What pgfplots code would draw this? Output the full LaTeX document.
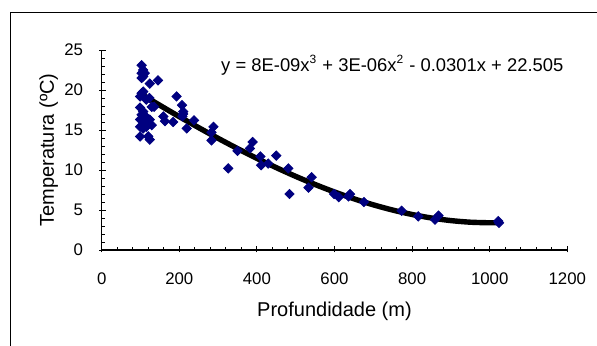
\documentclass[border=0pt]{standalone}
\usepackage{pgfplots}
\pgfplotsset{compat=1.18}
\usepackage{fontspec}
\setmainfont{Liberation Sans}
\definecolor{navy}{RGB}{0,0,128}
\pgfplotstableread{
x y
103 23.1
107 22.5
103 22.1
111 22.1
107 21.7
103 21.5
124 20.8
145 21.2
107 19.8
99 19.2
103 19.6
115 18.8
129 17.9
123 19.0
135 17.9
99 17.8
103 16.9
107 17.3
111 16.8
115 16.5
99 16.3
111 16.0
124 16.3
120 15.9
99 15.4
107 15.2
115 15.4
129 15.6
99 14.2
124 13.8
120 14.2
159 16.7
163 16.1
184 16.0
193 19.2
207 18.1
210 17.3
208 16.7
210 17.0
219 15.2
238 16.2
283 14.7
283 13.7
288 15.4
326 10.2
350 12.4
382 12.7
389 13.5
409 11.7
411 10.6
429 10.8
450 11.8
481 10.2
484 7.0
533 7.8
541 9.1
599 7.0
611 6.6
636 6.7
640 7.0
676 6.0
773 4.9
816 4.2
859 3.8
868 4.3
1022 3.6
1024 3.4
}\datatable
\pgfplotstableread{
x y
100 19.533
150 18.085
200 16.669
250 15.293
300 13.961
350 12.681
400 11.457
450 10.297
500 9.205
550 8.189
600 7.253
650 6.405
700 5.649
750 4.993
800 4.441
850 4.001
900 3.677
950 3.477
1000 3.405
1025 3.420
}\trendtable
\begin{document}
\begin{tikzpicture}
\useasboundingbox (-50.85pt,-47.5pt) rectangle (247.65pt,125pt);
\draw[line width=0.65pt] (-45.5pt,-60pt) -- (-45.5pt,118.85pt) -- (260pt,118.85pt);
\begin{axis}[
  at={(0,0)}, anchor=south west,
  scale only axis,
  width=232.8pt, height=100pt,
  xmin=0, xmax=1200, ymin=0, ymax=25,
  xtick={0,200,...,1200}, ytick={0,5,...,25},
  minor x tick num=4, minor y tick num=4,
  axis lines=left,
  axis line style={-, line width=0.6pt},
  tick style={black, line width=0.5pt},
  tick align=inside,
  major tick length=3.2pt,
  minor tick length=1.6pt,
  major x tick style={yshift=-1.2pt},
  major y tick style={xshift=-1.2pt},
  /pgf/number format/assume math mode=true,
  /pgf/number format/1000 sep={},
  ticklabel style={font=\fontsize{8.4}{10}\selectfont},
  xticklabel shift=8pt,
  yticklabel shift=5.8pt,
  xlabel={Profundidade (m)},
  ylabel={Temperatura (ºC)},
  label style={font=\fontsize{9.2}{11}\selectfont},
  every axis x label/.style={at={(axis description cs:0.5,-0.3085)}, anchor=center},
  every axis y label/.style={at={(axis description cs:-0.1138,0.5)}, rotate=90, anchor=center},
  clip=false,
]
\addplot[only marks, mark=square*, mark size=1.65pt, mark options={rotate=45, fill=navy, draw=navy}, color=navy] table[x=x,y=y]{\datatable};
\addplot[black, line width=2.7pt, smooth, no marks] table[x=x,y=y]{\trendtable};
\node[anchor=base west, inner sep=0pt, font=\fontsize{9.2}{11}\selectfont] at (axis cs:307,22.31) {y = 8E-09x$^{\mbox{\fontsize{6}{7}\selectfont 3}}$ + 3E-06x$^{\mbox{\fontsize{6}{7}\selectfont 2}}$ - 0.0301x + 22.505};
\end{axis}
\end{tikzpicture}
\end{document}
